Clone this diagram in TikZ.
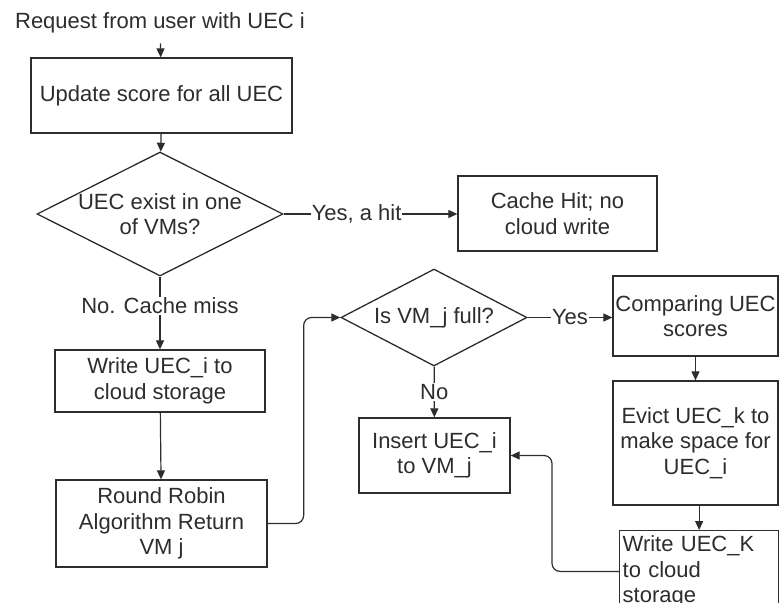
\documentclass[tikz,border=0pt]{standalone}
\usepackage{fontspec}
\setmainfont{Liberation Sans}
\usetikzlibrary{arrows.meta, shapes.geometric}
\definecolor{ink}{RGB}{45,45,45}

\begin{document}
\begin{tikzpicture}[x=1pt, y=-1pt, >={Triangle[length=9pt, width=8pt]},
    font=\fontsize{22}{25.5}\selectfont, text=ink,
    box/.style={draw=ink, line width=1.3pt, align=center, inner sep=0pt},
    decision/.style={diamond, draw=ink, line width=1.3pt, inner sep=0pt},
    flow/.style={draw=ink, line width=1.2pt, ->},
    lbl/.style={fill=white, inner sep=1pt}]
  \path[use as bounding box, fill=white] (0,0) rectangle (780,603);

  \node[inner xsep=0pt, inner ysep=10pt] (request) at (160,23) {Request from user with UEC i};
  \node[box, minimum width=261, minimum height=75] (update) at (161.5,95.5) {Update score for all UEC};
  \node[decision, minimum width=246, minimum height=124] (exist) at (160,214) {};
  \node[align=center] (existtxt) at (exist) {UEC exist in one\\of VMs?};
  \node[box, minimum width=199, minimum height=75] (hit) at (557.5,213.5) {Cache Hit; no\\cloud write};
  \node[box, minimum width=210, minimum height=62] (write) at (160,381) {Write UEC\_i to\\cloud storage};
  \node[box, minimum width=211, minimum height=87] (robin) at (161.5,523.5) {Round Robin\\Algorithm Return\\VM j};
  \node[decision, minimum width=186, minimum height=97] (full) at (434,317.5) {};
  \node (fulltxt) at (full) {Is VM\_j full?};
  \node[box, minimum width=165, minimum height=80] (compare) at (695.5,316) {Comparing UEC\\scores};
  \node[box, minimum width=165, minimum height=124] (evict) at (695.5,443) {Evict UEC\_k to\\make space for\\UEC\_i};
  \node[box, minimum width=151, minimum height=75] (insert) at (434.5,455.5) {Insert UEC\_i\\to VM\_j};
  \node[box, anchor=north west, text width=153, align=left, inner xsep=3pt, inner ysep=5pt]
    (writek) at (619,530) {Write UEC\_K\\to cloud\\storage};

  \draw[flow] (request) -- (update);
  \draw[flow] (update) -- (exist);
  \draw[flow] (exist.east) -- node[lbl, pos=0.42] {Yes, a hit} (exist.east -| hit.west);
  \draw[flow] (exist) -- node[lbl, pos=0.4] {No. Cache miss} (write);
  \draw[flow] (write) -- (robin);
  \draw[flow, rounded corners=8pt] (robin.east) -- ++(36,0) |- (full.west);
  \draw[flow] (full) -- node[lbl] {Yes} (full.east -| compare.west);
  \draw[flow] (full) -- node[lbl] {No} (insert);
  \draw[flow] (compare) -- (evict);
  \draw[flow] (evict.south -| writek.north) -- (writek.north);
  \draw[flow, rounded corners=8pt] (writek.west) -- ++(-67,0) |- (insert.east);
\end{tikzpicture}
\end{document}
